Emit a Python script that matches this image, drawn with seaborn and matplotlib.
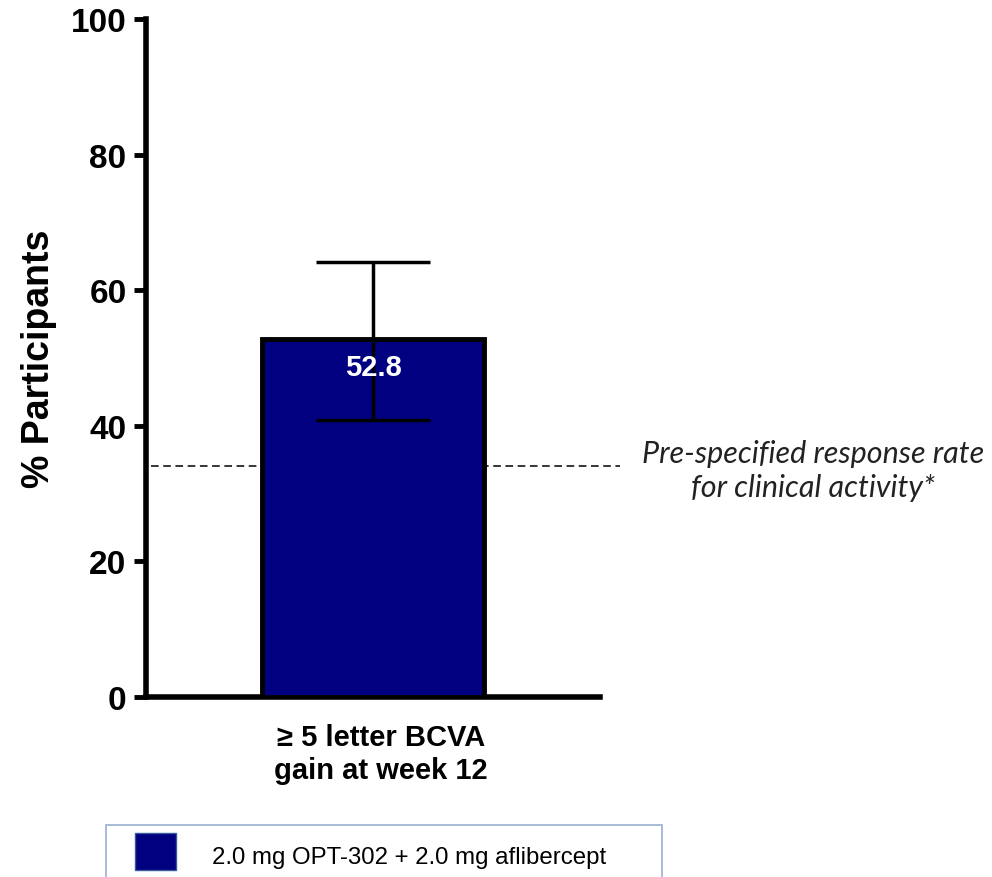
import matplotlib
matplotlib.use("Agg")
import matplotlib.pyplot as plt
import matplotlib.transforms as mtransforms
import seaborn as sns
import pandas as pd
from matplotlib.patches import Patch, Rectangle
from matplotlib.legend_handler import HandlerPatch

categories = ["≥ 5 letter BCVA\ngain at week 12"]
values = [52.8]
ci_low = [40.9]
ci_high = [64.2]
threshold = 34.1
series_name = "2.0 mg OPT-302 + 2.0 mg aflibercept"
y_ticks = [0, 20, 40, 60, 80, 100]

sns.set_theme(style="white")
plt.rcParams["font.family"] = ["Liberation Sans", "DejaVu Sans"]
plt.rcParams["text.color"] = "black"
plt.rcParams["axes.labelcolor"] = "black"
plt.rcParams["xtick.color"] = "black"
plt.rcParams["ytick.color"] = "black"

df = pd.DataFrame({"cat": categories, "val": values})

fig = plt.figure(figsize=(9.92, 8.78), dpi=100)
ax = fig.add_axes([146/992, 1-698/878, (600-146)/992, (698-20)/878])

sns.barplot(data=df, x="cat", y="val", ax=ax, color="#000080", width=0.49,
            edgecolor="black", linewidth=3.5, errorbar=None, saturation=1, zorder=3)
ax.set_xlim(-0.5, 0.5)
ax.set_ylim(0, 100)

ax.errorbar(x=[0], y=values,
            yerr=[[values[0]-ci_low[0]], [ci_high[0]-values[0]]],
            fmt="none", ecolor="black", elinewidth=2.5, capsize=40.7, capthick=2.5, zorder=4)

ax.axhline(threshold, xmin=0.01, xmax=(620-146)/454, color="black", lw=1.1,
           ls=(0, (5, 3)), clip_on=False, zorder=1)

ax.text(0, values[0]-2.0, f"{values[0]:.1f}", ha="center", va="top", color="white",
        fontsize=21, fontweight="bold", fontstretch="condensed",
        family=["Liberation Sans Narrow", "Liberation Sans"], zorder=5)

ax.text(1.47, threshold-0.6, "Pre-specified response rate\nfor clinical activity*",
        transform=ax.get_yaxis_transform(), ha="center", va="center",
        fontsize=22, style="italic", color="#222222", family=["Lato", "DejaVu Sans"],
        linespacing=1.25)

ax.set_yticks(y_ticks)
ax.set_yticklabels([str(t) for t in y_ticks], fontsize=24, fontweight="bold")
ax.tick_params(axis="y", direction="out", length=9, width=3.5, left=True, pad=5, colors="black")
ax.tick_params(axis="x", length=0, pad=19)
shift = mtransforms.ScaledTranslation(8/100, 0, fig.dpi_scale_trans)
for lbl in ax.get_xticklabels():
    lbl.set_fontsize(21)
    lbl.set_fontweight("bold")
    lbl.set_linespacing(1.2)
    lbl.set_transform(lbl.get_transform() + shift)
ax.set_xlabel("")
ax.set_ylabel("% Participants", fontsize=27, fontweight="bold", labelpad=10)

for s in ["top", "right"]:
    ax.spines[s].set_visible(False)
for s in ["left", "bottom"]:
    ax.spines[s].set_linewidth(4)
    ax.spines[s].set_color("black")


def offset_patch(legend, orig_handle, xdescent, ydescent, width, height, fontsize):
    h = height * 37 / 45
    return Rectangle((-xdescent + width*0.34, -ydescent + height - h), width*0.66, h)


leg = fig.legend(handles=[Patch(facecolor="#000080", edgecolor="#3a5a9a", label=series_name)],
                 handler_map={Patch: HandlerPatch(patch_func=offset_patch)},
                 loc="upper left", bbox_to_anchor=(106/992, 1-826/878, (662-106)/992, 0.0),
                 mode="expand", frameon=True, fancybox=False, fontsize=17.3,
                 handlelength=2.6, handleheight=2.55, handletextpad=1.5, borderpad=0.32,
                 borderaxespad=0)
leg.get_frame().set_edgecolor("#7f9cc6")
leg.get_frame().set_linewidth(1.2)

fig.savefig("out.png", dpi=100)
